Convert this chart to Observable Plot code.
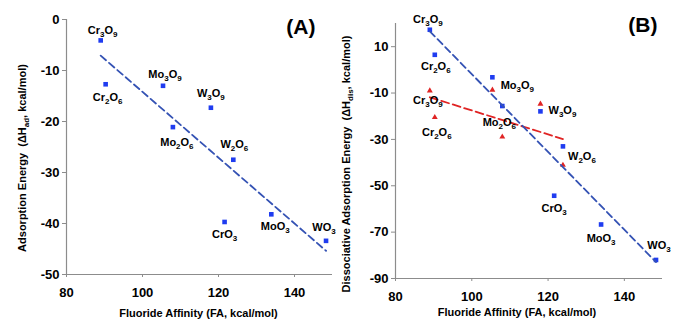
<!DOCTYPE html>
<html>
<head>
<meta charset="utf-8">
<script src="https://cdn.jsdelivr.net/npm/d3@7"></script>
<script src="https://cdn.jsdelivr.net/npm/@observablehq/plot@0.6"></script>
<style>
  html, body { margin: 0; padding: 0; background: #fff; }
  #figure { display: flex; width: 678px; height: 322px; }
</style>
</head>
<body>
<div id="figure"></div>
<script>
// Oxide clusters, in the same order for every array below
const formulas = ["Cr3O9", "Cr2O6", "Mo3O9", "Mo2O6", "W3O9", "W2O6", "CrO3", "MoO3", "WO3"];
// Fluoride affinity, kcal/mol
const fluorideAffinity = [89, 90.3, 105.4, 108, 118, 123.9, 121.6, 133.9, 148.3];
// (A) adsorption energy, kcal/mol
const adsorptionEnergy = [-4.1, -12.7, -13.0, -21.1, -17.3, -27.5, -39.7, -38.2, -43.4];
// (B) dissociative adsorption energy, kcal/mol (squares)
const dissociativeEnergy = [17.3, 6.5, -3.2, -15.6, -17.9, -33.0, -54.3, -66.7, -82.0];
// (B) second set for the dimers and trimers only (triangles)
const oligomers = ["Cr3O9", "Cr2O6", "Mo3O9", "Mo2O6", "W3O9", "W2O6"];
const oligomerEnergy = [-9.0, -20.5, -8.7, -28.9, -14.7, -41.1];

// Axis ticks
const xTicks = [80, 100, 120, 140];
const yTicksA = [0, -10, -20, -30, -40, -50];
const yTicksB = [10, -10, -30, -50, -70, -90];

const dataA = formulas.map((f, i) => ({formula: f, fa: fluorideAffinity[i], e: adsorptionEnergy[i]}));
const dataB = formulas.map((f, i) => ({formula: f, fa: fluorideAffinity[i], e: dissociativeEnergy[i]}));
const dataBr = oligomers.map((f, i) => ({formula: f, fa: fluorideAffinity[formulas.indexOf(f)], e: oligomerEnergy[i]}));

// Label placement around each point: [dx, dy] in pixels
const placeA = {
  Cr3O9: [2, -10], Cr2O6: [2, 13], Mo3O9: [2, -11], Mo2O6: [4, 15], W3O9: [0, -14],
  W2O6: [1, -15], CrO3: [0, 12], MoO3: [4, 12], WO3: [-2, -13]
};
const placeB = {
  Cr3O9: [-2, -10], Cr2O6: [1, 12], Mo3O9: [25, 8], Mo2O6: [-3, 16], W3O9: [22, -1],
  W2O6: [19, 10], CrO3: [0, 13], MoO3: [0, 14], WO3: [3, -14]
};
const placeBr = { Cr3O9: [-2, 10], Cr2O6: [2, 15] };

const FONT = "'Liberation Sans', Arial, Helvetica, sans-serif";
const AXIS = "#8c8c8c";
const BLUE = "#1f3cf0";
const BLUE_LINE = "#3452b4";
const RED = "#e02424";

function labelMarks(data, place) {
  return data.filter(d => place[d.formula]).map(d => Plot.text([d], {
    x: "fa", y: "e", text: "formula",
    dx: place[d.formula][0], dy: place[d.formula][1],
    fontSize: 11, fill: "black", lineAnchor: "middle"
  }));
}

function axes(yTicks) {
  return [
    Plot.ruleX([80], {stroke: AXIS, strokeWidth: 1.2}),
    Plot.ruleY([yTicks[yTicks.length - 1]], {stroke: AXIS, strokeWidth: 1.2}),
    Plot.axisY(yTicks, {tickSize: 4, tickPadding: 3, stroke: AXIS, fill: "black",
      fontSize: 13, tickFormat: d => String(d), label: null}),
    Plot.axisX(xTicks, {tickSize: 3, tickPadding: 10, stroke: AXIS, fill: "black",
      fontSize: 13, tickFormat: d => String(d), label: null})
  ];
}

const STYLE = {fontFamily: FONT, fontWeight: "bold", background: "white", color: "black"};

const chartA = Plot.plot({
  width: 340, height: 322,
  marginLeft: 66, marginRight: 8, marginTop: 19, marginBottom: 48,
  style: STYLE,
  x: {domain: [80, 150]},
  y: {domain: [-50, 0]},
  marks: [
    ...axes(yTicksA),
    Plot.dot(dataA, {x: "fa", y: "e", symbol: "square", r: 2.6, fill: BLUE}),
    Plot.linearRegressionY(dataA, {x: "fa", y: "e", ci: 0, stroke: BLUE_LINE,
      strokeWidth: 1.8, strokeDasharray: "7,4"}),
    ...labelMarks(dataA, placeA),
    Plot.text(["Adsorption Energy  (ΔH_ad, kcal/mol)"], {frameAnchor: "left", rotate: -90,
      textAnchor: "middle", lineAnchor: "middle",
      dx: -44, dy: 11, fontSize: 11, fill: "black"}),
    Plot.text(["Fluoride Affinity (FA, kcal/mol)"], {frameAnchor: "bottom",
      dx: -1, dy: 39, fontSize: 11, fill: "black", lineAnchor: "middle"}),
    Plot.text(["(A)"], {frameAnchor: "top-right", textAnchor: "end", lineAnchor: "middle",
      dx: -17, dy: 8, fontSize: 21, fill: "black"})
  ]
});

const chartB = Plot.plot({
  width: 338, height: 322,
  marginLeft: 55, marginRight: 16, marginTop: 23, marginBottom: 44,
  style: STYLE,
  x: {domain: [80, 150]},
  y: {domain: [-90, 20]},
  marks: [
    ...axes(yTicksB),
    Plot.dot(dataBr, {x: "fa", y: "e", symbol: "triangle", r: 2.2, fill: RED}),
    Plot.dot(dataB, {x: "fa", y: "e", symbol: "square", r: 2.6, fill: BLUE}),
    Plot.linearRegressionY(dataBr, {x: "fa", y: "e", ci: 0, stroke: RED,
      strokeWidth: 1.8, strokeDasharray: "8,4"}),
    Plot.linearRegressionY(dataB, {x: "fa", y: "e", ci: 0, stroke: BLUE_LINE,
      strokeWidth: 1.8, strokeDasharray: "7,4"}),
    ...labelMarks(dataB, placeB),
    ...labelMarks(dataBr, placeBr),
    Plot.text(["Dissociative Adsorption Energy  (ΔH_dis, kcal/mol)"], {frameAnchor: "left", rotate: -90,
      textAnchor: "middle", lineAnchor: "middle",
      dx: -49, dy: 13, fontSize: 11, fill: "black"}),
    Plot.text(["Fluoride Affinity (FA, kcal/mol)"], {frameAnchor: "bottom",
      dx: -12, dy: 34, fontSize: 11, fill: "black", lineAnchor: "middle"}),
    Plot.text(["(B)"], {frameAnchor: "top-right", textAnchor: "end", lineAnchor: "middle",
      dx: -5, dy: 2, fontSize: 21, fill: "black"})
  ]
});

// Typeset chemical formulas and ΔH subscripts with tspans
const NS = "http://www.w3.org/2000/svg";
function renderParts(el, parts, subSize, shift) {
  el.textContent = "";
  let down = false;
  for (const p of parts) {
    const ts = document.createElementNS(NS, "tspan");
    ts.textContent = p.t;
    if (p.sub && !down) { ts.setAttribute("dy", shift); down = true; }
    else if (!p.sub && down) { ts.setAttribute("dy", -shift); down = false; }
    if (p.sub) ts.setAttribute("font-size", subSize);
    el.appendChild(ts);
  }
}
function typeset(svg) {
  svg.querySelectorAll("text").forEach(el => {
    const s = el.textContent;
    if (/^([A-Z][a-z]?\d*)+$/.test(s) && /\d/.test(s)) {
      renderParts(el, s.match(/[A-Za-z]+|\d+/g).map(t => ({t, sub: /\d/.test(t)})), 8, 3);
    } else if (s.includes("_")) {
      const parts = [];
      const re = /_([a-z]+)/g;
      let last = 0, m;
      while ((m = re.exec(s))) {
        parts.push({t: s.slice(last, m.index), sub: false});
        parts.push({t: m[1], sub: true});
        last = re.lastIndex;
      }
      parts.push({t: s.slice(last), sub: false});
      el.style.whiteSpace = "pre";
      renderParts(el, parts, 8, 3);
    }
  });
}
typeset(chartA);
typeset(chartB);

const fig = document.getElementById("figure");
fig.appendChild(chartA);
fig.appendChild(chartB);
</script>
</body>
</html>
